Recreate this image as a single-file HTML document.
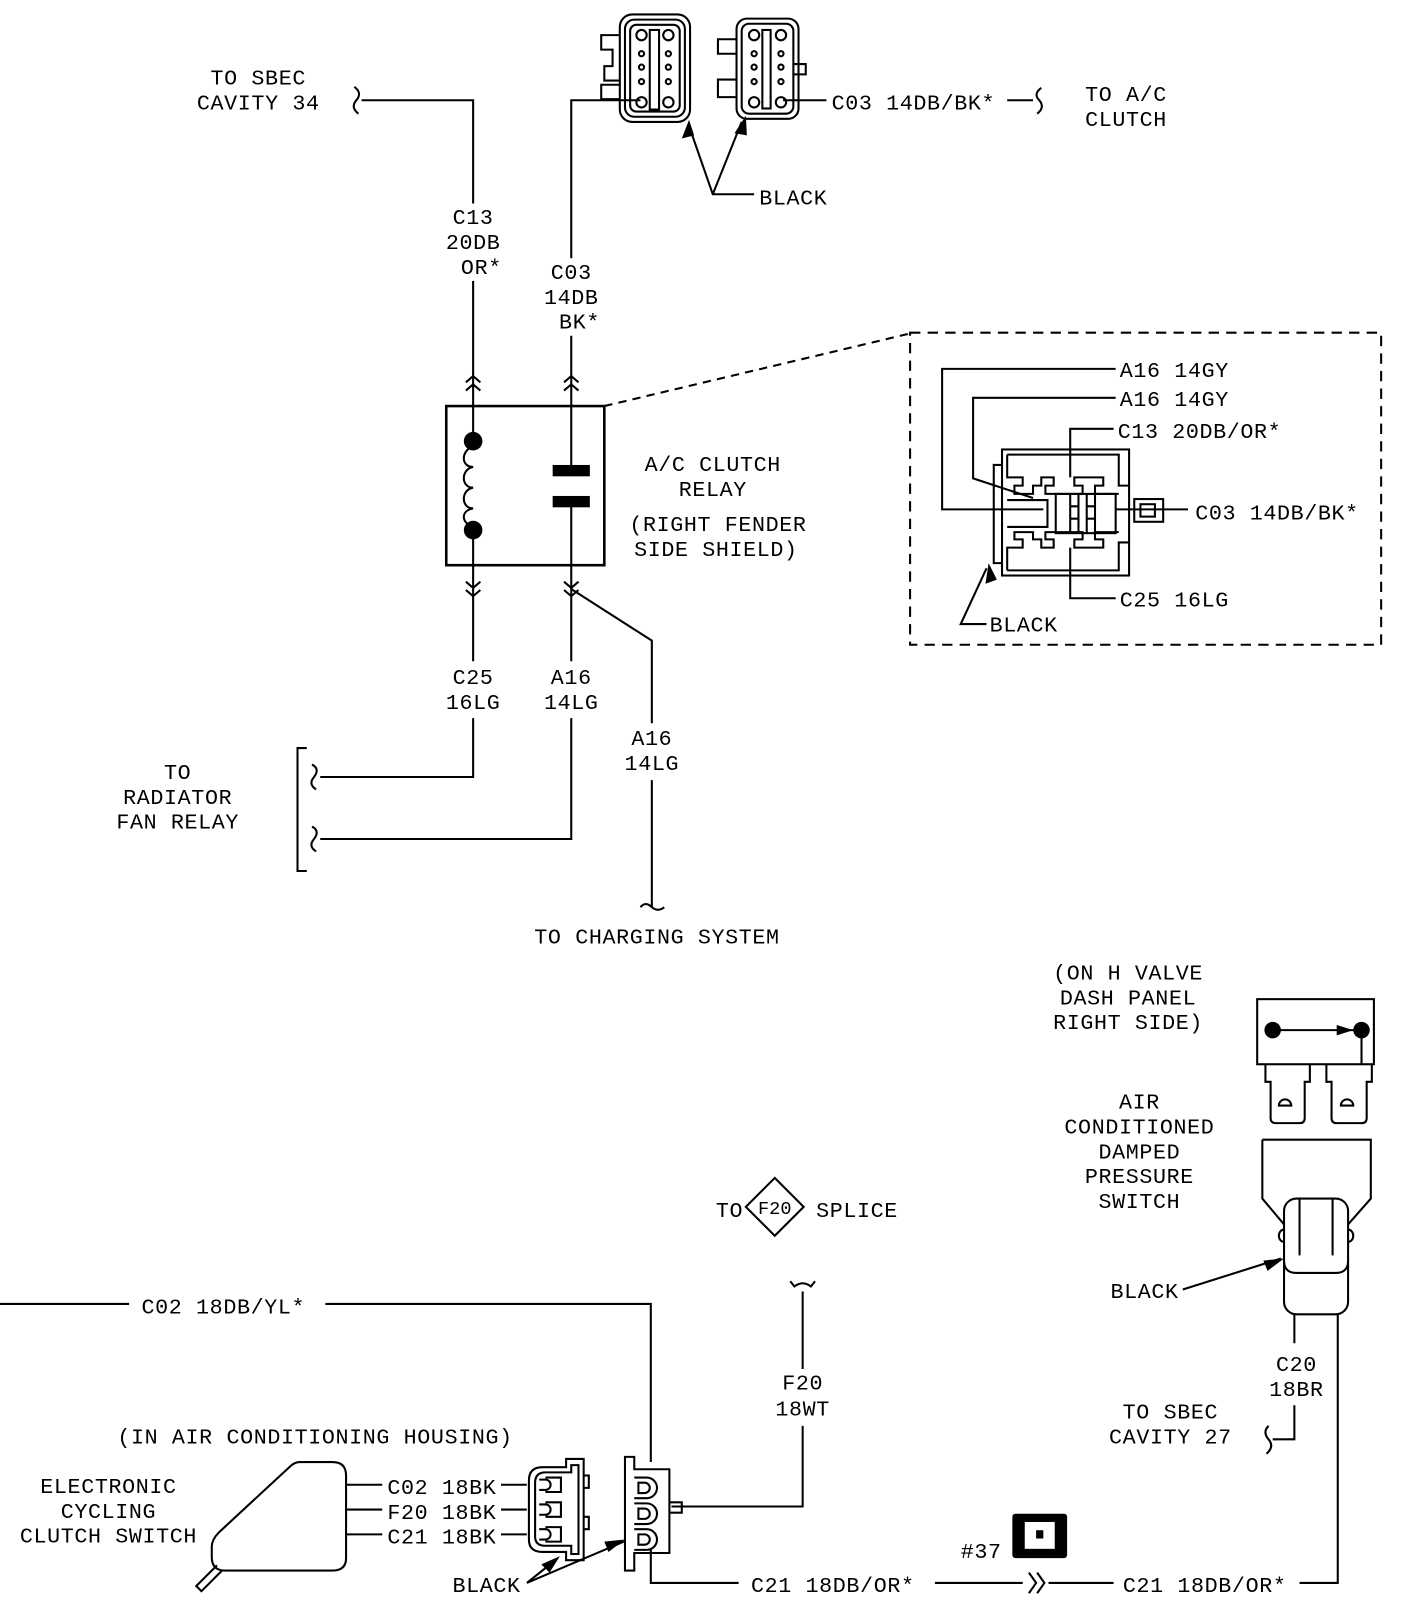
<!DOCTYPE html>
<html><head><meta charset="utf-8"><style>
html,body{margin:0;padding:0;background:#fff;}
svg{display:block;}
text{font-family:"Liberation Mono",monospace;font-size:21px;fill:#000;letter-spacing:0.6px;}
.c{text-anchor:middle;}
</style></head><body>
<svg width="1408" height="1616" viewBox="0 0 1363 1564" preserveAspectRatio="none" xmlns="http://www.w3.org/2000/svg">
<g fill="none" stroke="#000" stroke-width="2">
<path d="M350,97 H458 V197 M458,272 V392"/>
<path d="M343,84 q8,6 2,13 q-6,7 2,13"/>
<path d="M620,97 H553 V250 M553,325 V392"/>
<path d="M451,370 l7,-6 l7,6 M451,378 l7,-6 l7,6 M546,370 l7,-6 l7,6 M546,378 l7,-6 l7,6"/>
<rect x="432" y="393" width="153" height="154" stroke-width="2.5"/>
<path d="M458,393 V427 M458,513 V547 M553,393 V455 M553,490 V547"/>
<path d="M458,432 c-12,4 -12,20 0,20 c-12,2 -12,20 0,20 c-12,2 -12,20 0,20 c-12,2 -12,14 0,18"/>
<path d="M451,563 l7,6 l7,-6 M451,571 l7,6 l7,-6 M546,563 l7,6 l7,-6 M546,571 l7,6 l7,-6"/>
<path d="M458,547 V640 M458,695 V752 H310 M553,547 V640 M553,695 V812 H310"/>
<path d="M553,570 L631,620 V700 M631,755 V878"/>
<path d="M302,740 q8,4 2,12 q-6,7 2,12 M302,800 q8,4 2,12 q-6,7 2,12"/>
<path d="M297,724 H288 V843 H297"/>
<path d="M620,878 q5,-6 11,0 q6,5 12,0"/>
<rect x="600" y="14" width="68" height="104" rx="12"/>
<rect x="605" y="19" width="58" height="94" rx="9"/>
<rect x="610" y="24" width="48" height="84" rx="6"/>
<rect x="629" y="29" width="9" height="77"/>
<path d="M600,34 H582 V48 H593 V64 H585 V78 H600 M600,82 H582 V96 H600"/>
<circle cx="621" cy="34" r="5"/><circle cx="647" cy="34" r="5"/><circle cx="621" cy="99" r="5"/><circle cx="647" cy="99" r="5"/>
<circle cx="621" cy="52" r="2.5"/><circle cx="647" cy="52" r="2.5"/><circle cx="621" cy="65" r="2.5"/><circle cx="647" cy="65" r="2.5"/><circle cx="621" cy="79" r="2.5"/><circle cx="647" cy="79" r="2.5"/>
<rect x="713" y="18" width="60" height="97" rx="10"/>
<rect x="718" y="23" width="50" height="87" rx="7"/>
<rect x="738" y="29" width="8" height="76"/>
<path d="M713,38 H695 V52 H713 M713,77 H695 V94 H713 M768,62 H780 V72 H768"/>
<circle cx="730" cy="34" r="5"/><circle cx="756" cy="34" r="5"/><circle cx="730" cy="99" r="5"/><circle cx="756" cy="99" r="5"/>
<circle cx="730" cy="52" r="2.5"/><circle cx="756" cy="52" r="2.5"/><circle cx="730" cy="65" r="2.5"/><circle cx="756" cy="65" r="2.5"/><circle cx="730" cy="79" r="2.5"/><circle cx="756" cy="79" r="2.5"/>
<path d="M758,97 H800 M975,97 H1000"/>
<path d="M1008,85 q-8,6 -2,12 q6,7 -2,13"/>
<path d="M730,188 H690 L667,122 M690,188 L718,118"/>
<path d="M585,393 L880,323" stroke-dasharray="8,6"/>
<rect x="881" y="322" width="456" height="302" stroke-dasharray="10,7"/>
<rect x="970" y="435" width="123" height="122"/>
<path d="M970,450 H962 V545 H970"/>
<path d="M975,440 H1083 V470 H1093 M975,440 V462 H990 V470 H982 V478 H1000 V470 H1008 V462 H1020 V470 H1012 V478 H1048 V470 H1040 V462 H1068 V470 H1060 V478 H1083"/>
<path d="M975,552 H1083 V525 H1093 M975,552 V530 H990 V522 H982 V515 H1000 V522 H1008 V530 H1020 V522 H1012 V515 H1048 V522 H1040 V530 H1068 V522 H1060 V515 H1083"/>
<rect x="1022" y="478" width="58" height="38"/>
<path d="M1036,516 V490 H1044 V516 M1052,516 V490 H1060 V516 M1036,478 V502 H1044 V478 M1052,478 V502 H1060 V478"/>
<path d="M975,484 H1014 V510 H975"/>
<rect x="1098" y="483" width="28" height="22"/><rect x="1104" y="488" width="14" height="12"/>
<path d="M1080,357 H912 V493 H1010 M1080,385 H942 V463 L1000,482 M1078,415 H1036 V462 M1036,530 V579 H1080 M1080,493 H1150"/>
<path d="M955,604 H930 L955,550"/>
<path d="M0,1262 H125 M315,1262 H630 V1415"/>
<path d="M630,1500 V1532 H715 M905,1532 H990 M1015,1532 H1078 M1258,1532 H1295 V1272"/>
<path d="M996,1522 l7,10 l-7,10 M1004,1522 l7,10 l-7,10"/>
<path d="M777,1250 V1325 M777,1380 V1458 H650"/>
<path d="M765,1240 l4,5 q8,-6 16,0 l4,-5"/>
<path d="M750,1140 L778,1168 L750,1196 L722,1168 Z"/>
<path d="M290,1415 H322 Q335,1415 335,1428 V1508 Q335,1520 322,1520 H218 Q205,1520 205,1507 V1497 Q205,1490 212,1483 L280,1420 Q285,1415 290,1415 Z"/>
<path d="M210,1515 L190,1535 L195,1540 L215,1520"/>
<path d="M335,1437 H370 M335,1461 H370 M335,1485 H370 M485,1437 H510 M485,1461 H510 M485,1485 H510"/>
<path d="M565,1412 H548 V1420 H525 Q512,1420 512,1433 V1490 Q512,1502 525,1502 H548 V1510 H565 Z"/>
<path d="M560,1418 H553 V1425 H528 Q518,1425 518,1435 V1487 Q518,1496 528,1496 H553 V1504 H560 Z"/>
<path d="M565,1428 h5 v12 h-5 M565,1468 h5 v12 h-5"/>
<path d="M522,1432 h6 a5,5 0 1 1 0,10 h-6 M528,1430 h15 v14 h-15 M522,1456 h6 a5,5 0 1 1 0,10 h-6 M528,1454 h15 v14 h-15 M522,1480 h6 a5,5 0 1 1 0,10 h-6 M528,1478 h15 v14 h-15"/>
<path d="M605,1410 H614 V1422 H648 V1503 H614 V1520 H605 Z"/>
<path d="M614,1430 h12 a10,10 0 0 1 0,20 h-12 M614,1455 h12 a10,10 0 0 1 0,20 h-12 M614,1480 h12 a10,10 0 0 1 0,20 h-12"/>
<path d="M618,1435 h6 a5,5 0 0 1 0,10 h-6 z M618,1460 h6 a5,5 0 0 1 0,10 h-6 z M618,1485 h6 a5,5 0 0 1 0,10 h-6 z"/>
<path d="M648,1454 h12 v10 h-12"/>
<path d="M510,1532 L540,1508 M510,1532 L604,1492"/>
<rect x="1217" y="967" width="113" height="63"/>
<path d="M1232,997 H1318 V1030"/>
<path d="M1225,1030 V1047 H1230 V1082 Q1230,1087 1235,1087 H1258 Q1263,1087 1263,1082 V1047 H1268 V1030 M1284,1030 V1047 H1289 V1082 Q1289,1087 1294,1087 H1318 Q1323,1087 1323,1082 V1047 H1328 V1030"/>
<path d="M1238,1070 a6,6 0 0 1 12,0 z M1298,1070 a6,6 0 0 1 12,0 z"/>
<path d="M1222,1103 H1327 V1160 L1305,1185 M1222,1103 V1160 L1243,1185"/>
<rect x="1243" y="1160" width="62" height="112" rx="12"/>
<path d="M1258,1160 V1215 M1290,1160 V1215 M1243,1220 Q1243,1232 1255,1232 H1293 Q1305,1232 1305,1220"/>
<path d="M1243,1190 a5,6 0 0 0 0,12 M1305,1190 a5,6 0 0 1 0,12"/>
<path d="M1253,1272 V1300 M1253,1360 V1393 H1232"/>
<path d="M1228,1380 q-6,6 0,13 q6,7 -2,14"/>
<path d="M1145,1248 L1240,1218"/>
</g>
<g fill="#000">
<circle cx="458" cy="427" r="9"/><circle cx="458" cy="513" r="9"/>
<rect x="535" y="450" width="36" height="11"/><rect x="535" y="480" width="36" height="11"/>
<path d="M667,116 l-7,18 l12,-3 z M722,112 l-11,17 l12,2 z"/>
<path d="M957,545 l-3,20 l11,-4 z"/>
<path d="M542,1506 l-18,8 l8,8 z M605,1490 l-20,2 l4,10 z"/>
<path d="M1243,1218 l-20,2 l4,10 z"/>
<circle cx="1232" cy="997" r="8"/><circle cx="1318" cy="997" r="8"/>
<path d="M1310,997 l-16,-5 v10 z"/>
<rect x="980" y="1465" width="53" height="43" rx="3"/>
</g>
<rect x="992" y="1473" width="29" height="26" fill="#fff"/>
<rect x="1003" y="1481" width="7" height="8" fill="#000"/>
<text class="c" x="250" y="82">TO SBEC</text>
<text class="c" x="250" y="106">CAVITY 34</text>
<text class="c" x="458" y="217">C13</text>
<text class="c" x="458" y="241">20DB</text>
<text class="c" x="466" y="265">OR*</text>
<text class="c" x="553" y="270">C03</text>
<text class="c" x="553" y="294">14DB</text>
<text class="c" x="561" y="318">BK*</text>
<text x="805" y="106">C03 14DB/BK*</text>
<text class="c" x="1090" y="98">TO A/C</text>
<text class="c" x="1090" y="122">CLUTCH</text>
<text x="735" y="198">BLACK</text>
<text class="c" x="690" y="456">A/C CLUTCH</text>
<text class="c" x="690" y="480">RELAY</text>
<text class="c" x="695" y="514">(RIGHT FENDER</text>
<text class="c" x="693" y="538">SIDE SHIELD)</text>
<text x="1084" y="365">A16 14GY</text>
<text x="1084" y="393">A16 14GY</text>
<text x="1082" y="424">C13 20DB/OR*</text>
<text x="1157" y="503">C03 14DB/BK*</text>
<text x="1084" y="587">C25 16LG</text>
<text x="958" y="611">BLACK</text>
<text class="c" x="458" y="662">C25</text>
<text class="c" x="458" y="686">16LG</text>
<text class="c" x="553" y="662">A16</text>
<text class="c" x="553" y="686">14LG</text>
<text class="c" x="631" y="721">A16</text>
<text class="c" x="631" y="745">14LG</text>
<text class="c" x="172" y="754">TO</text>
<text class="c" x="172" y="778">RADIATOR</text>
<text class="c" x="172" y="802">FAN RELAY</text>
<text class="c" x="636" y="913">TO CHARGING SYSTEM</text>
<text class="c" x="1092" y="948">(ON H VALVE</text>
<text class="c" x="1092" y="972">DASH PANEL</text>
<text class="c" x="1092" y="996">RIGHT SIDE)</text>
<text class="c" x="1103" y="1073">AIR</text>
<text class="c" x="1103" y="1097">CONDITIONED</text>
<text class="c" x="1103" y="1121">DAMPED</text>
<text class="c" x="1103" y="1145">PRESSURE</text>
<text class="c" x="1103" y="1169">SWITCH</text>
<text x="693" y="1178">TO</text>
<text class="c" x="750" y="1175" style="font-size:18px;letter-spacing:0">F20</text>
<text x="790" y="1178">SPLICE</text>
<text x="1075" y="1256">BLACK</text>
<text x="137" y="1271">C02 18DB/YL*</text>
<text class="c" x="1255" y="1327">C20</text>
<text class="c" x="1255" y="1351">18BR</text>
<text class="c" x="777" y="1345">F20</text>
<text class="c" x="777" y="1370">18WT</text>
<text class="c" x="1133" y="1373">TO SBEC</text>
<text class="c" x="1133" y="1397">CAVITY 27</text>
<text class="c" x="305" y="1397">(IN AIR CONDITIONING HOUSING)</text>
<text class="c" x="105" y="1445">ELECTRONIC</text>
<text class="c" x="105" y="1469">CYCLING</text>
<text class="c" x="105" y="1493">CLUTCH SWITCH</text>
<text x="375" y="1446">C02 18BK</text>
<text x="375" y="1470">F20 18BK</text>
<text x="375" y="1494">C21 18BK</text>
<text x="930" y="1508">#37</text>
<text x="438" y="1541">BLACK</text>
<text x="727" y="1541">C21 18DB/OR*</text>
<text x="1087" y="1541">C21 18DB/OR*</text>
</svg>
</body></html>
